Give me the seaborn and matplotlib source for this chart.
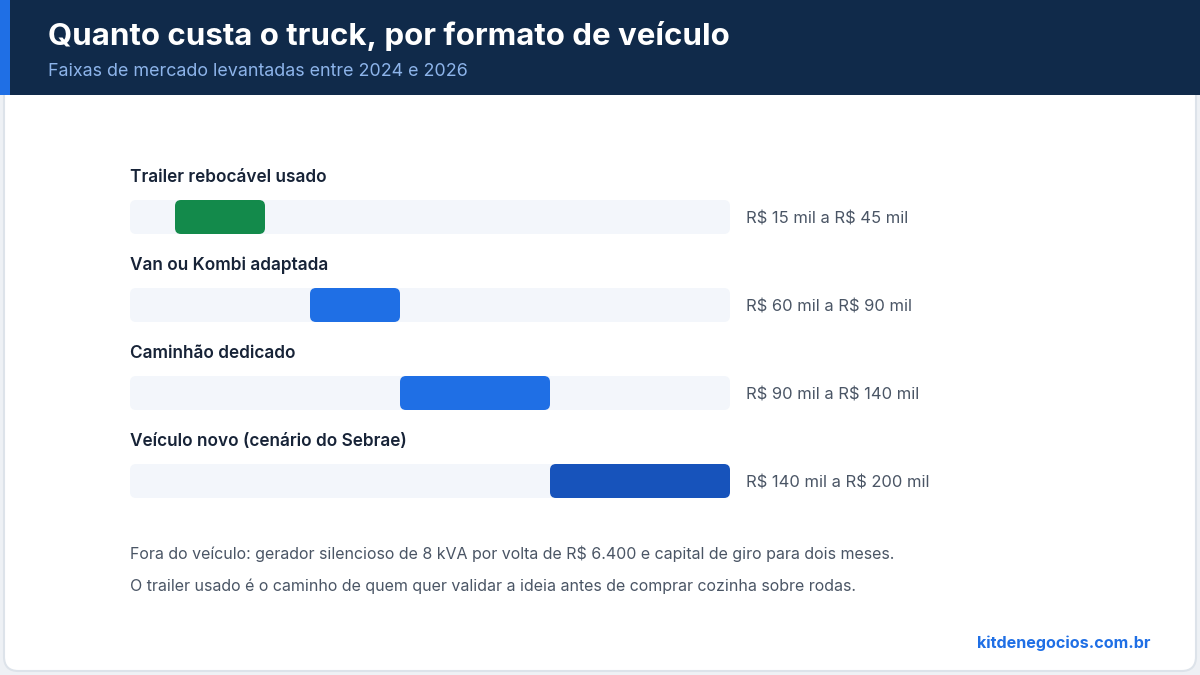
import matplotlib
matplotlib.use("Agg")
import matplotlib.pyplot as plt
from matplotlib.patches import FancyBboxPatch, Rectangle
import seaborn as sns
import pandas as pd

categories = ["Trailer rebocável usado", "Van ou Kombi adaptada",
              "Caminhão dedicado", "Veículo novo (cenário do Sebrae)"]
low = [15, 60, 90, 140]
high = [45, 90, 140, 200]
value_labels = ["R$ 15 mil a R$ 45 mil", "R$ 60 mil a R$ 90 mil",
                "R$ 90 mil a R$ 140 mil", "R$ 140 mil a R$ 200 mil"]
bar_colors = ["#138a4b", "#1f6fe5", "#1f6fe5", "#1753bb"]
scale_max = 200

title = "Quanto custa o truck, por formato de veículo"
subtitle = "Faixas de mercado levantadas entre 2024 e 2026"
notes = ["Fora do veículo: gerador silencioso de 8 kVA por volta de R$ 6.400 e capital de giro para dois meses.",
         "O trailer usado é o caminho de quem quer validar a ideia antes de comprar cozinha sobre rodas."]
source = "kitdenegocios.com.br"

sns.set_theme(style="white")
plt.rcParams['font.family'] = ['Inter', 'DejaVu Sans']
plt.rcParams['text.parse_math'] = False

W, H = 1200, 675
fig = plt.figure(figsize=(12, 6.75), dpi=100)
fig.patch.set_facecolor("#eef1f5")

def fx(x):
    return x / W

def fy(y):
    return 1 - y / H

# card
card = FancyBboxPatch((fx(4), fy(671)), fx(1192), 667 / H,
                      boxstyle="round,pad=0,rounding_size=0.012",
                      transform=fig.transFigure, facecolor="white",
                      edgecolor="#dde3ea", linewidth=1.5,
                      mutation_aspect=W / H, zorder=-2)
fig.patches.append(card)
# header band
fig.patches.append(Rectangle((0, fy(95)), 1, 95 / H, transform=fig.transFigure,
                             facecolor="#102a4a", edgecolor="none", zorder=-1))
fig.patches.append(Rectangle((0, fy(95)), fx(10), 95 / H, transform=fig.transFigure,
                             facecolor="#1f6fe5", edgecolor="none", zorder=-1))

fig.text(fx(48), fy(36), title, color="white", fontsize=22.5, fontweight="bold",
         va="center", ha="left")
fig.text(fx(48), fy(72), subtitle, color="#8db4ea", fontsize=12.9,
         va="center", ha="left")

# bar axes: x 130..730 px, rows centered 217 + 88*i
top_px, bot_px = 173, 525
ax = fig.add_axes([fx(130), fy(bot_px), fx(600), (bot_px - top_px) / H])
ax.set_zorder(5)
ax.set_xlim(0, scale_max)
ax.set_ylim(len(categories) - 0.5, -0.5)
ax.axis("off")

df = pd.DataFrame({"cat": categories, "low": low, "high": high})
bh = 34 / 88
r = 6 / 3  # px radius in x units
asp = 3 / 88
for i, row in df.iterrows():
    track = FancyBboxPatch((0, i - bh / 2), scale_max, bh,
                           boxstyle=f"round,pad=0,rounding_size={r}",
                           mutation_aspect=asp, facecolor="#f3f6fb",
                           edgecolor="none", zorder=1)
    ax.add_patch(track)
    rng = FancyBboxPatch((row["low"], i - bh / 2), row["high"] - row["low"], bh,
                         boxstyle=f"round,pad=0,rounding_size={r}",
                         mutation_aspect=asp, facecolor=bar_colors[i],
                         edgecolor="none", zorder=2)
    ax.add_patch(rng)
    ax.text(0, i - 40 / 88, row["cat"], fontsize=12.4, fontweight="semibold",
            color="#172337", ha="left", va="center", clip_on=False)
    ax.text(scale_max + 16 / 3, i + 2 / 88, value_labels[i], fontsize=11.9,
            color="#4a5565", ha="left", va="center", clip_on=False)

fig.text(fx(130), fy(554), notes[0], fontsize=11.5, color="#4a5565", va="center")
fig.text(fx(130), fy(586), notes[1], fontsize=11.5, color="#4a5565", va="center")
fig.text(fx(1150), fy(643), source, fontsize=11.6, fontweight="bold",
         color="#1f6fe5", ha="right", va="center")

fig.savefig("out.png", dpi=100, facecolor=fig.get_facecolor())
